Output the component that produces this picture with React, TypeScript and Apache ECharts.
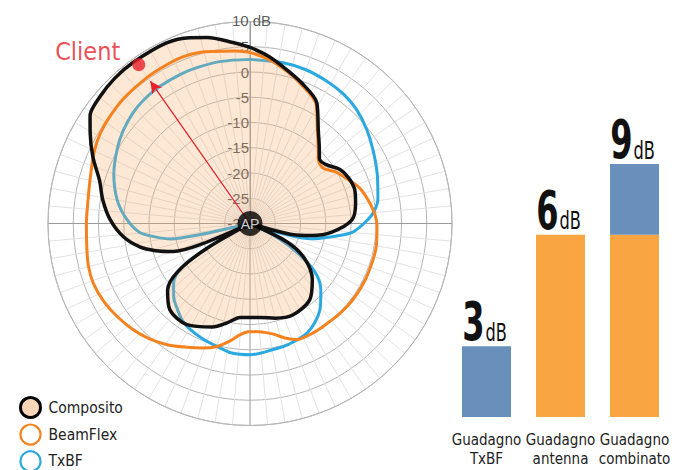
import React, { useEffect, useRef } from "react";
import * as echarts from "echarts";

// ---- Polar data: [angle (deg, clockwise from north), gain (dB)] ----
const compositoPts: number[][] = [
  [0, 4.9], [6, 3.4], [12, 1.7], [20, -0.3], [29, -2.7], [36, -7], [42, -9.5], [47, -11.2],
  [52, -11], [59, -9.2], [65, -8.5], [72, -8.2], [79, -8.7], [88, -9.8], [96, -13.7],
  [101, -17.5], [105, -22], [108, -30], [111, -30], [116.6, -21.6], [123, -17], [132, -13.4],
  [142, -10.8], [155, -10], [165, -10.6], [174, -11.3], [186, -11.3], [193, -9.8], [200, -8.2],
  [212, -6.4], [223, -6.7], [231, -9], [236.5, -13], [240, -20], [243, -30], [245, -30],
  [247, -19.5], [250, -13.8], [254, -10.5], [258, -7.7], [264, -4.8], [271.6, -2.3], [279, -0.5],
  [286, 1], [293, 3.8], [299.6, 6.4], [304, 8.2], [310, 8.9], [317, 9.3], [324, 9.4], [335, 9.4],
  [342, 8.7], [347, 7.8], [354.6, 6], [360, 4.9],
];
const beamflexPts: number[][] = [
  [0, 3.9], [6, 2.8], [12, 1.4], [20, -0.6], [29, -3], [36, -7.3], [42, -9.8], [47, -11.5],
  [53, -11.8], [59, -10.2], [65, -8.9], [72, -7.2], [78.5, -6.2], [85, -5.3], [91, -4.85],
  [100, -4.6], [106, -4.6], [116, -4.6], [126, -4.65], [135, -4.8], [145, -5], [152, -5],
  [158, -5.2], [163, -6.3], [168, -7.6], [174, -8.4], [180, -8.6], [185, -7.9], [190, -6.3],
  [195, -4.8], [201, -3.6], [207, -2.5], [214, -1], [221, 0.3], [228, 1.3], [235, 2.1],
  [242, 2.8], [249, 3.2], [255, 3.1], [261, 2.7], [270, 2.4], [278, 2.4], [287, 3], [295, 4],
  [301, 4.6], [307, 4.9], [315, 5.2], [325, 5.4], [332, 5.5], [338, 5.6], [344, 5.3],
  [349, 4.7], [355, 4.3], [360, 3.9],
];
const txbfPts: number[][] = [
  [0, 2.5], [11.6, 2.5], [20, 2.4], [29, 2.0], [36, 1.6], [43, 0.9], [51, -0.3], [59, -1.6],
  [69, -3], [79, -4.2], [84, -5.2], [88, -6.6], [95, -9.7], [100, -14.3], [104, -17.5],
  [107, -23], [110, -30], [113, -30], [117, -24], [123, -17.5], [128, -13.1], [134, -10.5],
  [141, -8], [152, -5.6], [162, -4.9], [170, -4.6], [180, -4.0], [188, -4.1], [195, -4.8],
  [202, -5.3], [209.5, -5.9], [215, -6.6], [220, -7.7], [226, -9], [232, -10.8], [237, -14],
  [240.5, -21], [243, -30], [255, -30], [257.5, -20], [259, -14], [262, -11], [265.3, -8.1],
  [271.9, -5.6], [280, -3.3], [290, -1.3], [299, 0.1], [306, 1.1], [313.5, 1.9], [320, 2.3],
  [326.7, 2.5], [335, 2.6], [342, 2.6], [350, 2.6], [360, 2.5],
];
const clientPoint = [325, 8.4]; // [angle, dB]
const arrowEnd = [325, 4.4];
const radiusTicks = [-30, -25, -20, -15, -10, -5, 0, 5];
const topTick = 10;
const topTickLabel = "10 dB";

// ---- Bar data ----
const categories = ["Guadagno\nTxBF", "Guadagno\nantenna", "Guadagno\ncombinato"];
const gainLabels = [3, 6, 9];
const antennaBar = [0, 7.2, 7.2];
const txbfBar = [2.8, 0, 2.8];

const NARROW = "'Liberation Sans Narrow', 'Arial Narrow', 'DejaVu Sans Condensed', 'Liberation Sans', sans-serif";
const SANS = "'Liberation Sans', Arial, sans-serif";
const RED = "#E8202A";
const ORANGE = "#F5821F";
const BLUE = "#2AA9E0";

const toPolar = (pts: number[][]) => pts.map(([a, d]) => [d, a]);

export default function App() {
  const ref = useRef<HTMLDivElement>(null);
  useEffect(() => {
    if (!ref.current) return;
    const chart = echarts.init(ref.current, undefined, { renderer: "svg" });
    const tops = antennaBar.map((v, i) => v + txbfBar[i]);
    const splitColors = Array.from({ length: 18 }, (_, i) => (i === 0 ? "#9a9a9a" : "#e2e2e2"));

    chart.setOption({
      animation: false,
      backgroundColor: "#fff",
      polar: { center: [250, 223.5], radius: 202 },
      angleAxis: {
        type: "value", min: 0, max: 360, interval: 5, startAngle: 90, clockwise: true,
        axisLine: { show: true, lineStyle: { color: "#b5b5b5", width: 1 } },
        axisTick: { show: false }, axisLabel: { show: false },
        splitLine: { show: true, lineStyle: { color: splitColors, width: 1 } },
      },
      radiusAxis: {
        type: "value", min: -30, max: 10, interval: 5,
        axisLine: { show: true, lineStyle: { color: "#9a9a9a", width: 1 } },
        axisTick: { show: false },
        splitLine: { show: true, lineStyle: { color: "#b5b5b5", width: 1 } },
        axisLabel: {
          show: true, fontSize: 15, color: "#555", fontFamily: SANS,
          align: "right", verticalAlign: "middle", margin: 1,
          formatter: (v: number) => (radiusTicks.includes(v) ? String(v) : ""),
        },
      },
      legend: {
        orient: "vertical", left: 19, top: 396, height: 120, padding: 0,
        itemWidth: 20, itemHeight: 20, itemGap: 4.5,
        textStyle: { fontSize: 15.5, fontFamily: NARROW, color: "#222", padding: [0, 0, 0, 3] },
        data: [
          { name: "Composito", icon: "circle", itemStyle: { color: "#FBD7B8", borderColor: "#000", borderWidth: 3 } },
          { name: "BeamFlex", icon: "circle", itemStyle: { color: "#fff", borderColor: ORANGE, borderWidth: 2.2 } },
          { name: "TxBF", icon: "circle", itemStyle: { color: "#fff", borderColor: BLUE, borderWidth: 2.2 } },
        ],
      },
      grid: { left: 449.5, right: 12.5, top: 164, bottom: 53 },
      xAxis: {
        type: "category", data: categories,
        axisLine: { show: false }, axisTick: { show: false },
        axisLabel: { interval: 0, hideOverlap: false, fontSize: 15, lineHeight: 19, color: "#222", fontFamily: NARROW, margin: 13 },
      },
      yAxis: { type: "value", min: 0, max: 10, show: false, splitLine: { show: false } },
      series: [
        {
          name: "TxBF", type: "line", coordinateSystem: "polar", data: toPolar(txbfPts),
          symbol: "none", smooth: 0.3, z: 2, lineStyle: { color: BLUE, width: 3 }, itemStyle: { color: BLUE },
        },
        {
          name: "Composito", type: "line", coordinateSystem: "polar", data: toPolar(compositoPts),
          symbol: "none", smooth: 0.3, z: 3, lineStyle: { width: 0, color: "rgba(0,0,0,0)" },
          areaStyle: { color: "rgba(247,172,108,0.4)", origin: "start" }, silent: true,
        },
        {
          name: "BeamFlex", type: "line", coordinateSystem: "polar", data: toPolar(beamflexPts),
          symbol: "none", smooth: 0.3, z: 4, lineStyle: { color: ORANGE, width: 3 }, itemStyle: { color: ORANGE },
        },
        {
          name: "Composito", type: "line", coordinateSystem: "polar", data: toPolar(compositoPts),
          symbol: "none", smooth: 0.3, z: 5, lineStyle: { color: "#111", width: 3.5 }, itemStyle: { color: "#111" },
        },
        {
          name: "arrow", type: "line", coordinateSystem: "polar", z: 6,
          data: [
            { value: [-30, arrowEnd[0]], symbol: "none" },
            { value: [arrowEnd[1], arrowEnd[0]], symbol: "arrow", symbolSize: [9, 12], symbolRotate: 360 - arrowEnd[0] },
          ],
          showSymbol: true, lineStyle: { color: RED, width: 1.3 }, itemStyle: { color: RED },
        },
        {
          name: "topTick", type: "scatter", coordinateSystem: "polar", z: 7, silent: true,
          data: [[topTick, 0]], symbolSize: 0, itemStyle: { color: "rgba(0,0,0,0)" },
          label: {
            show: true, position: "inside", formatter: topTickLabel, offset: [1.5, -1],
            color: "#333", fontSize: 15, fontFamily: SANS,
          },
        },
        {
          name: "client", type: "scatter", coordinateSystem: "polar", z: 7,
          data: [[clientPoint[1], clientPoint[0]]], symbolSize: 13, itemStyle: { color: RED },
          label: {
            show: true, formatter: "Client", position: "left", distance: 12, offset: [0, -13],
            color: RED, fontSize: 25, fontFamily: NARROW,
          },
        },
        {
          name: "ap", type: "scatter", coordinateSystem: "polar", z: 8,
          data: [[-30, 0]], symbolSize: 25, itemStyle: { color: "#000" },
          label: { show: true, position: "inside", formatter: "AP", color: "#fff", fontSize: 14, fontFamily: SANS },
        },
        {
          name: "antenna", type: "bar", stack: "gain", data: antennaBar, barWidth: 49,
          itemStyle: { color: "#F9A541" },
        },
        {
          name: "txbfGain", type: "bar", stack: "gain", data: txbfBar, barWidth: 49,
          itemStyle: { color: "#6890BA" },
        },
        {
          name: "labels", type: "custom", coordinateSystem: "cartesian2d", z: 10,
          data: tops.map((t, i) => [i, t, gainLabels[i]]),
          renderItem: (params: any, api: any) => {
            const c = api.coord([api.value(0), api.value(1)]);
            const base = c[1] - 5;
            return {
              type: "group",
              children: [
                {
                  type: "text", x: c[0] - 2, y: base - 19, scaleX: 0.66,
                  style: { text: String(api.value(2)), font: `bold 54px ${NARROW}`, fill: "#111", align: "right", verticalAlign: "middle" },
                },
                {
                  type: "text", x: c[0] - 1, y: base - 9, scaleX: 0.72,
                  style: { text: "dB", font: `25px ${NARROW}`, fill: "#111", align: "left", verticalAlign: "middle" },
                },
              ],
            };
          },
        },
      ],
    });
    return () => chart.dispose();
  }, []);
  return <div ref={ref} style={{ position: "fixed", left: 0, top: 0, width: 684, height: 470, background: "#fff" }} />;
}
